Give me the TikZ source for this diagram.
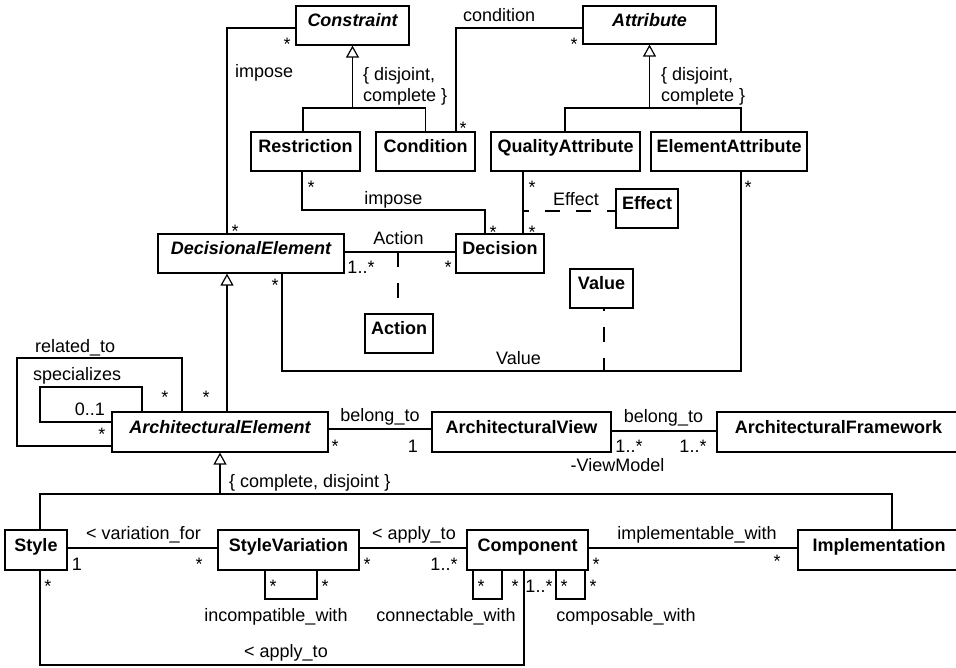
\documentclass[tikz,border=0pt]{standalone}
\usepackage{fontspec}
\setmainfont{Liberation Sans}
\usetikzlibrary{arrows.meta,calc}

\tikzset{
  txt/.style={font=\fontsize{18}{21}\selectfont},
  cls/.style={draw, line width=1.2pt, fill=white, inner sep=0pt,
    font=\fontsize{18}{21}\selectfont\bfseries, text height=13pt, text depth=11pt},
  abstract/.style={cls, font=\fontsize{18}{21}\selectfont\bfseries\itshape},
  assoc/.style={line width=1.2pt},
  gen/.style={line width=1.2pt,
    -{Triangle[open, length=12pt, width=13pt, line width=1.2pt]}},
  dashline/.style={line width=1.2pt, dash pattern=on 15pt off 16pt},
  lbl/.style={txt, inner sep=0pt, anchor=base},
  lblw/.style={txt, inner sep=0pt, anchor=base west},
  constr/.style={txt, inner sep=0pt, anchor=north west, align=left},
}

\begin{document}
\begin{tikzpicture}[x=1pt,y=-1pt]
\useasboundingbox (0,0) rectangle (956,667);
\fill[white] (0,0) rectangle (956,667);

% ---------- classes ----------
\node[abstract, minimum width=113pt, minimum height=39pt] (constraint) at (352.5,25.5) {Constraint};
\node[abstract, minimum width=133pt, minimum height=38pt] (attribute) at (649.5,25) {Attribute};
\node[cls, minimum width=109pt, minimum height=39pt] (restriction) at (305.5,151.5) {Restriction};
\node[cls, minimum width=99pt, minimum height=39pt] (condition) at (425.5,151.5) {Condition};
\node[cls, minimum width=149pt, minimum height=39pt] (quality) at (565.5,151.5) {QualityAttribute};
\node[cls, minimum width=156pt, minimum height=39pt] (elemattr) at (729,151.5) {ElementAttribute};
\node[cls, minimum width=62pt, minimum height=39pt] (effect) at (647,208.5) {Effect};
\node[abstract, minimum width=186pt, minimum height=39pt] (decisional) at (251,253.5) {DecisionalElement};
\node[cls, minimum width=88pt, minimum height=39pt] (decision) at (500,253.5) {Decision};
\node[cls, minimum width=63pt, minimum height=39pt] (value) at (601.5,288.5) {Value};
\node[cls, minimum width=68pt, minimum height=39pt] (action) at (399,333.5) {Action};
\node[abstract, minimum width=216pt, minimum height=40pt] (archelem) at (220,432) {ArchitecturalElement};
\node[cls, minimum width=179pt, minimum height=40pt] (archview) at (521.5,432) {ArchitecturalView};
\node[cls, minimum width=243pt, minimum height=40pt] (archframe) at (838.5,432) {ArchitecturalFramework};
\node[cls, minimum width=62pt, minimum height=40pt] (style) at (36,550) {Style};
\node[cls, minimum width=141pt, minimum height=40pt] (stylevar) at (288.5,550) {StyleVariation};
\node[cls, minimum width=121pt, minimum height=40pt] (component) at (527.5,550) {Component};
\node[cls, minimum width=162pt, minimum height=40pt] (implementation) at (879,550) {Implementation};

% ---------- generalizations ----------
\coordinate (cjoin) at (352.5,108);
\draw[assoc] (restriction.north -| 303,0) |- (cjoin) -| (condition.north);
\draw[gen] (cjoin) -- (constraint.south);

\coordinate (ajoin) at (649.5,108);
\draw[assoc] (quality.north -| 565,0) |- (ajoin) -| (elemattr.north -| 741,0);
\draw[gen] (ajoin) -- (attribute.south);

\draw[gen, line width=2.6pt] (archelem.north -| 227,0) -- (decisional.south -| 227,0);

\coordinate (ljoin) at (220,494);
\draw[gen] (ljoin) -- (archelem.south);
\draw[assoc] (style.north -| 40,0) |- (ljoin) -| (implementation.north -| 892,0);
\draw[assoc] (stylevar.north -| 295,0) -- (stylevar.north -| 295,0 |- ljoin);
\draw[assoc] (component.north -| 525,0) -- (component.north -| 525,0 |- ljoin);

% ---------- associations (upper part) ----------
\draw[assoc] (constraint.west |- 0,28) -| (decisional.north -| 227,0);
\draw[assoc] (attribute.west |- 0,28) -| (condition.north -| 456,0);
\draw[assoc] (restriction.south -| 302,0) |- (485,210) -- (decision.north -| 485,0);
\draw[assoc] (quality.south -| 523,0) -- (decision.north -| 523,0);
\coordinate (effpt) at (523,211);
\draw[dashline, dash phase=9pt] (effpt) -- (effect.west |- effpt);

\draw[assoc] (decisional.east |- 0,252) -- (decision.west |- 0,252);
\coordinate (actpt) at (398,252);
\draw[dashline] (actpt) -- (action.north -| actpt);

\draw[assoc] (decisional.south -| 282,0) |- (741,371) -- (elemattr.south -| 741,0);
\coordinate (valpt) at (604,371);
\draw[dashline, dash phase=13pt] (value.south -| valpt) -- (valpt);

% ---------- associations (middle) ----------
\draw[assoc] (archelem.west |- 0,446) -| (17,358) -| (archelem.north -| 182,0);
\draw[assoc] (archelem.west |- 0,422) -| (40,387) -| (archelem.north -| 142,0);
\draw[assoc] (archelem.east |- 0,429) -- (archview.west |- 0,429);
\draw[assoc] (archview.east |- 0,431) -- (archframe.west |- 0,431);

% ---------- associations (lower part) ----------
\draw[assoc] (style.east |- 0,548) -- (stylevar.west |- 0,548);
\draw[assoc] (stylevar.east |- 0,548) -- (component.west |- 0,548);
\draw[assoc] (component.east |- 0,548) -- (implementation.west |- 0,548);
\draw[assoc] (stylevar.south -| 265,0) |- (317,599) -- (stylevar.south -| 317,0);
\draw[assoc] (component.south -| 473,0) |- (502,599) -- (component.south -| 502,0);
\draw[assoc] (component.south -| 556,0) |- (585,599) -- (component.south -| 585,0);
\draw[assoc] (style.south -| 40,0) |- (524,665) -- (component.south -| 524,0);

% ---------- labels ----------
\node[constr] (gc1) at (363,67) {\{ disjoint,\\ complete \}};
\node[constr] (gc2) at (661,67) {\{ disjoint,\\ complete \}};
\node[lblw] (gc3) at (229,487) {\{ complete, disjoint \}};

\node[lblw] (n1) at (235,77) {impose};
\node[lbl] (m1) at (287,50) {*};
\node[lbl] (m3) at (235,237) {*};

\node[lblw] (n2) at (463,21) {condition};
\node[lbl] (m4) at (574,50) {*};
\node[lbl] (m5) at (463,134) {*};

\node[lbl] (n3) at (393.5,204) {impose};
\node[lbl] (m6) at (311,193) {*};
\node[lbl] (m7) at (493,238) {*};

\node[lbl] (m8) at (532,193) {*};
\node[lbl] (m9) at (532,238) {*};
\node[lbl] (n4) at (576,205) {Effect};

\node[lbl] (n5) at (398.5,244) {Action};
\node[lbl] (m10) at (361,273) {1..*};
\node[lbl] (m11) at (448,273) {*};

\node[lbl] (m12) at (275,291) {*};
\node[lbl] (m13) at (748,193) {*};
\node[lbl] (n6) at (518.5,364) {Value};

\node[lblw] (n7) at (35,352) {related\_to};
\node[lblw] (n8) at (33,380) {specializes};
\node[lbl, anchor=base east] (m14) at (105,415) {0..1};
\node[lbl] (m15) at (102,440) {*};
\node[lbl] (m16) at (165,403) {*};
\node[lbl] (m17) at (206,403) {*};

\node[lbl] (n9) at (380,421) {belong\_to};
\node[lbl] (m18) at (335,452) {*};
\node[lbl] (m19) at (413,452) {1};
\node[lbl] (n10) at (663.5,422) {belong\_to};
\node[lbl] (m20) at (629,452) {1..*};
\node[lbl] (m21) at (693,452) {1..*};
\node[lbl] (n11) at (617.5,471) {-ViewModel};

\node[lbl] (n12) at (143.5,539) {< variation\_for};
\node[lbl] (m22) at (77,570) {1};
\node[lbl] (m23) at (199,570) {*};
\node[lbl] (n13) at (414,539) {< apply\_to};
\node[lbl] (m24) at (367,570) {*};
\node[lbl] (m25) at (444,570) {1..*};
\node[lbl] (n14) at (697,539) {implementable\_with};
\node[lbl] (m26) at (596,570) {*};
\node[lbl] (m27) at (777,567) {*};

\node[lbl] (m28) at (48,592) {*};
\node[lbl] (m29) at (273,592) {*};
\node[lbl] (m30) at (325,592) {*};
\node[lbl] (n15) at (276,621) {incompatible\_with};
\node[lbl] (m31) at (481,592) {*};
\node[lbl] (m32) at (515,592) {*};
\node[lbl] (m33) at (539,592) {1..*};
\node[lbl] (m34) at (564,592) {*};
\node[lbl] (m35) at (593,592) {*};
\node[lbl] (n16) at (446,621) {connectable\_with};
\node[lbl] (n17) at (626,621) {composable\_with};
\node[lbl] (n18) at (286,657) {< apply\_to};
\end{tikzpicture}
\end{document}
